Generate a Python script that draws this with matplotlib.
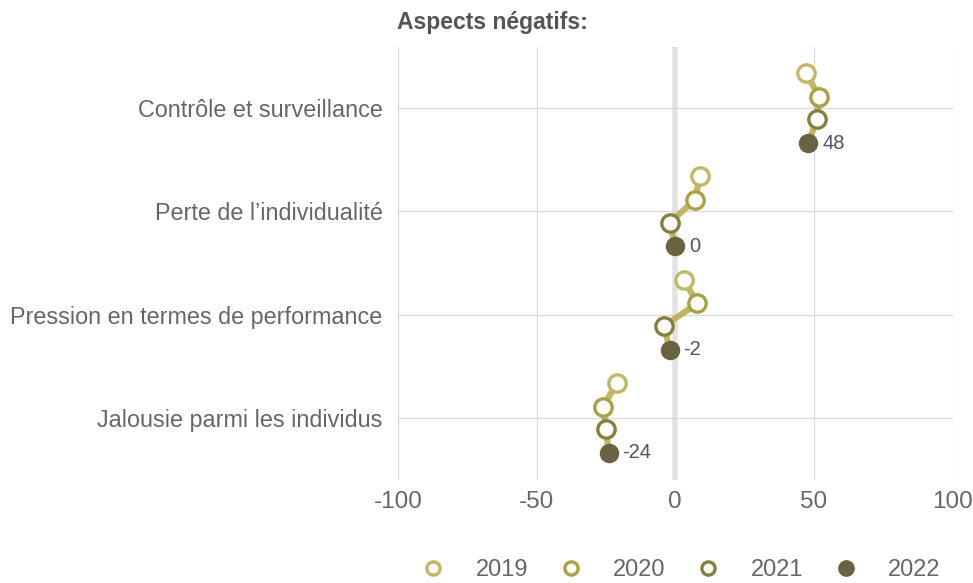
import numpy as np
import matplotlib.pyplot as plt
from matplotlib.lines import Line2D

plt.rcParams['font.family'] = ['Liberation Sans', 'DejaVu Sans']

categories = ["Contrôle et surveillance", "Perte de l\u2019individualité",
              "Pression en termes de performance", "Jalousie parmi les individus"]
years = ["2019", "2020", "2021", "2022"]
v2019 = [47, 9, 3, -21]
v2020 = [52, 7, 8, -26]
v2021 = [51, -2, -4, -25]
v2022 = [48, 0, -2, -24]

colors = ['#c2b767', '#aaa144', '#86803f', '#6a6342']
offsets = [-0.34, -0.11, 0.11, 0.34]
values = [v2019, v2020, v2021, v2022]

fig, ax = plt.subplots(figsize=(9.73, 5.83), dpi=100)
fig.subplots_adjust(left=0.409, right=0.979, top=0.919, bottom=0.177)

ax.axvline(0, color='#e3e3e3', lw=4, zorder=0)
for x in [-100, -50, 50, 100]:
    ax.axvline(x, color='#d6d6d6', lw=0.8, zorder=0)
for i in range(len(categories)):
    ax.axhline(i, color='#d6d6d6', lw=0.8, zorder=0)

for i in range(len(categories)):
    xs = [v[i] for v in values]
    ys = [i + o for o in offsets]
    ax.plot(xs, ys, color='#b5ac4c', lw=4.5, alpha=0.85, zorder=1, solid_capstyle='round')
    for j in range(4):
        if j < 3:
            ax.plot(xs[j], ys[j], 'o', ms=12.5, mfc='white', mec=colors[j], mew=2.4, zorder=3)
        else:
            ax.plot(xs[j], ys[j], 'o', ms=13, mfc=colors[j], mec=colors[j], zorder=3)
    ax.text(xs[3] + 5, ys[3], str(v2022[i]), va='center', ha='left', fontsize=14.5, color='#555555')

ax.set_xlim(-100, 100)
ax.set_ylim(3.6, -0.59)
ax.set_xticks([-100, -50, 0, 50, 100])
ax.set_xticklabels(['-100', '-50', '0', '50', '100'])
ax.set_yticks(range(len(categories)))
ax.set_yticklabels(categories)
ax.tick_params(length=0, labelsize=16.8, colors='#666666', pad=11)
ax.tick_params(axis='x', labelsize=17.5, pad=8)
for s in ax.spines.values():
    s.set_visible(False)

fig.text(0.408, 0.962, "Aspects négatifs:", fontsize=16.5, fontweight='bold', color='#555555', ha='left', va='center')

handles = []
for j in range(4):
    if j < 3:
        handles.append(Line2D([], [], ls='', marker='o', ms=9.5, mfc='white', mec=colors[j], mew=2.4))
    else:
        handles.append(Line2D([], [], ls='', marker='o', ms=11, mfc=colors[j], mec=colors[j]))
fig.legend(handles, years, loc='center', bbox_to_anchor=(0.700, 0.022), ncol=4, frameon=False,
           fontsize=17, labelcolor='#666666', handlelength=1, handletextpad=1.28, columnspacing=1.32,
           borderpad=0.2)

fig.savefig('out.png', dpi=100)
